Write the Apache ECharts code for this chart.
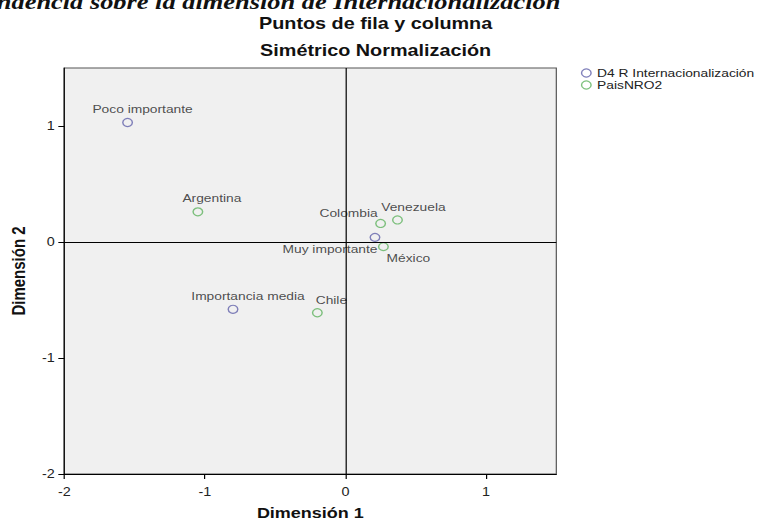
<!DOCTYPE html>
<html><head><meta charset="utf-8">
<script src="https://cdn.jsdelivr.net/npm/echarts@6/dist/echarts.min.js"></script>
<style>
html,body{margin:0;padding:0;overflow:hidden;background:#fff}
#c{width:632.5px;height:523px;transform:scaleX(1.2);transform-origin:0 0}
</style>
</head><body><div id="c"></div>
<script>
// Row points (D4 R Internacionalización)
const rowNames = ['Poco importante', 'Importancia media', 'Muy importante'];
const rowDim1 = [-1.55, -0.80, 0.21];
const rowDim2 = [1.03, -0.58, 0.04];
// Column points (PaisNRO2)
const colNames = ['Argentina', 'Chile', 'Colombia', 'México', 'Venezuela'];
const colDim1 = [-1.05, -0.20, 0.25, 0.27, 0.37];
const colDim2 = [0.26, -0.61, 0.16, -0.04, 0.19];
const tickValues = [-2, -1, 0, 1];
const seriesNames = ['D4 R Internacionalización', 'PaisNRO2'];

// label placement (style only)
const labelOffsets = {
  'Poco importante': [12.5, -13], 'Importancia media': [12.5, -13], 'Muy importante': [-37.5, 12],
  'Argentina': [11.7, -13], 'Chile': [11.7, -12], 'Colombia': [-26.7, -10],
  'México': [20.8, 12], 'Venezuela': [13.3, -13]
};
const FONT = '"Liberation Sans", Arial, sans-serif';
const BLUE = '#6262aa', GREEN = '#5fb35f';

function items(names, d1, d2) {
  return names.map((n, i) => ({ name: n, value: [d1[i], d2[i]], label: { offset: labelOffsets[n] } }));
}

const chart = echarts.init(document.getElementById('c'), null, { renderer: 'svg', width: 632.5, height: 523 });
const axisCommon = {
  type: 'value', min: -2, max: 1.5, interval: 1,
  axisLine: { show: true, onZero: false, lineStyle: { color: '#000', width: 1 } },
  axisTick: { show: true, length: 5, customValues: tickValues, lineStyle: { color: '#000' } },
  axisLabel: { customValues: tickValues, color: '#222', fontSize: 12, fontFamily: FONT },
  splitLine: { show: false },
  nameLocation: 'middle',
  nameTextStyle: { fontSize: 15, fontWeight: 'bold', color: '#111', fontFamily: FONT }
};
chart.setOption({
  animation: false,
  grid: { left: 53.6, top: 68, width: 410, height: 406, show: true, outerBoundsMode: 'none', containLabel: false, backgroundColor: '#f0f0f0', borderColor: '#555', borderWidth: 1 },
  xAxis: Object.assign({}, axisCommon, { name: 'Dimensión 1', nameGap: 32, axisLabel: Object.assign({}, axisCommon.axisLabel, { margin: 12 }) }),
  yAxis: Object.assign({}, axisCommon, { name: 'Dimensión 2', nameGap: 30, axisLabel: Object.assign({}, axisCommon.axisLabel, { margin: 8 }) }),
  legend: {
    orient: 'vertical', left: 479, top: 62, itemWidth: 8, itemHeight: 8, itemGap: 0, icon: 'circle',
    textStyle: { fontSize: 11.5, lineHeight: 12, color: '#222', fontFamily: FONT },
    data: [
      { name: seriesNames[0], itemStyle: { color: 'rgba(0,0,0,0)', borderColor: BLUE, borderWidth: 1.2 } },
      { name: seriesNames[1], itemStyle: { color: 'rgba(0,0,0,0)', borderColor: GREEN, borderWidth: 1.2 } }
    ]
  },
  graphic: [
    { type: 'text', x: 467, y: 12, style: { text: 'Figura 5. Análisis de correspondencia sobre la dimensión de Internacionalización', textAlign: 'right', align: 'right', textVerticalAlign: 'bottom', verticalAlign: 'bottom', font: 'italic bold 22px "Liberation Serif", "Times New Roman", serif', fill: '#111' } },
    { type: 'text', x: 313, y: 24, style: { text: 'Puntos de fila y columna', textAlign: 'center', align: 'center', textVerticalAlign: 'middle', verticalAlign: 'middle', font: 'bold 16.5px ' + FONT, fill: '#111' } },
    { type: 'text', x: 313, y: 51, style: { text: 'Simétrico Normalización', textAlign: 'center', align: 'center', textVerticalAlign: 'middle', verticalAlign: 'middle', font: 'bold 16.5px ' + FONT, fill: '#111' } }
  ],
  series: [
    {
      name: seriesNames[0], type: 'scatter', symbol: 'circle', symbolSize: 8, z: 3,
      itemStyle: { color: 'rgba(0,0,0,0)', borderColor: BLUE, borderWidth: 1.2 },
      label: { show: true, position: 'inside', formatter: '{b}', color: '#222', fontSize: 11.5, fontFamily: FONT },
      data: items(rowNames, rowDim1, rowDim2),
      markLine: {
        silent: true, symbol: 'none', animation: false,
        label: { show: false },
        lineStyle: { color: '#000', width: 1, type: 'solid' },
        data: [{ xAxis: 0 }, { yAxis: 0 }]
      }
    },
    {
      name: seriesNames[1], type: 'scatter', symbol: 'circle', symbolSize: 8, z: 3,
      itemStyle: { color: 'rgba(0,0,0,0)', borderColor: GREEN, borderWidth: 1.2 },
      label: { show: true, position: 'inside', formatter: '{b}', color: '#222', fontSize: 11.5, fontFamily: FONT },
      data: items(colNames, colDim1, colDim2)
    }
  ]
});
</script>
</body></html>
